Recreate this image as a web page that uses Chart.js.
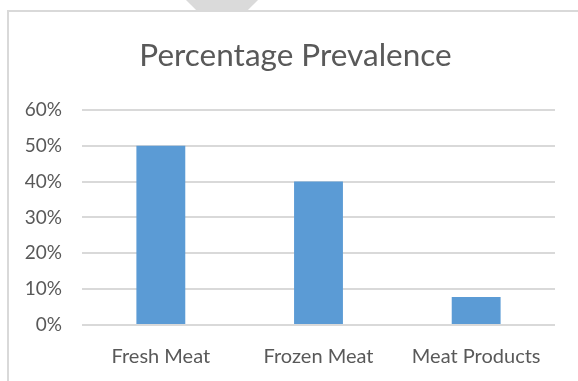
<!DOCTYPE html>
<html>
<head>
<meta charset="utf-8">
<script src="https://cdn.jsdelivr.net/npm/chart.js@4"></script>
<style>
  html, body { margin: 0; padding: 0; background: #fff; }
  #wrap { position: relative; width: 578px; height: 381px; overflow: hidden; }
  #frame {
    position: absolute; left: 7px; top: 10px; right: -10px; bottom: -10px;
    border-left: 2px solid #d9d9d9; border-top: 2px solid #d9d9d9;
  }
  #pointer {
    position: absolute; left: 186px; top: 0; width: 72px; height: 10px;
    background: #dadada;
    clip-path: polygon(0 0, 100% 0, 86% 100%, 14% 100%);
  }
  #c { position: absolute; left: 0; top: 0; }
</style>
</head>
<body>
<div id="wrap">
  <div id="frame"></div>
  <div id="pointer"></div>
  <canvas id="c" width="578" height="381"></canvas>
</div>
<script>
const categories = ["Fresh Meat", "Frozen Meat", "Meat Products"];
const prevalence = [50, 40, 7.8];
const yTicks = [0, 10, 20, 30, 40, 50, 60];

const textColor = "#595959";
const fontFamily = "Lato, 'Open Sans', sans-serif";

// centre the title on the whole framed box, not on canvas minus right padding
const titleShift = {
  id: "titleShift",
  afterLayout(chart) {
    if (chart.titleBlock) chart.titleBlock.left = 36;
  },
};

new Chart(document.getElementById("c"), {
  type: "bar",
  data: {
    labels: categories,
    datasets: [
      {
        label: "Percentage Prevalence",
        data: prevalence,
        backgroundColor: "#5b9bd5",
        borderWidth: 0,
        categoryPercentage: 1,
        barPercentage: 0.31,
      },
    ],
  },
  options: {
    responsive: false,
    animation: false,
    layout: {
      padding: { left: 0, right: 23, top: 0, bottom: 0 },
    },
    scales: {
      x: {
        afterFit: (scale) => {
          scale.height = 56;
        },
        grid: { display: false, drawTicks: false },
        border: { display: false },
        ticks: {
          color: textColor,
          padding: 20,
          font: { family: fontFamily, size: 20 },
        },
      },
      y: {
        min: 0,
        max: 60,
        afterFit: (scale) => {
          scale.width = 82;
        },
        afterBuildTicks: (scale) => {
          scale.ticks = yTicks.map((v) => ({ value: v }));
        },
        grid: { color: "#d9d9d9", lineWidth: 2, drawTicks: false },
        border: { display: false },
        ticks: {
          color: textColor,
          padding: 20,
          crossAlign: "near",
          font: { family: fontFamily, size: 19 },
          callback: (v) => v + "%",
        },
      },
    },
    plugins: {
      legend: { display: false },
      tooltip: { enabled: false },
      title: {
        display: true,
        text: "Percentage Prevalence",
        color: textColor,
        font: { family: fontFamily, size: 31.5, weight: "normal" },
        padding: { top: 37, bottom: 35 },
      },
    },
  },
  plugins: [titleShift],
});
</script>
</body>
</html>
